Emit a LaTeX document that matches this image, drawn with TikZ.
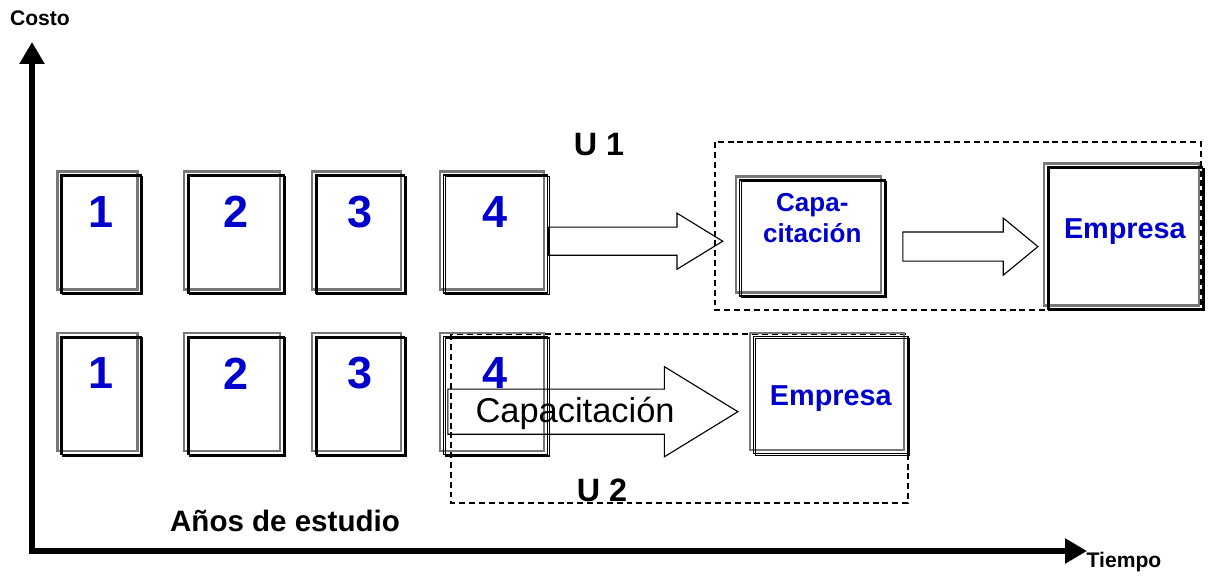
\documentclass[tikz,border=0pt]{standalone}
\usepackage{fontspec}
\setmainfont{Liberation Sans}
\usepackage{tikz}
\usetikzlibrary{arrows.meta,shapes.arrows,positioning,calc}
\definecolor{numblue}{RGB}{0,0,204}
\definecolor{shadowgray}{RGB}{120,120,120}

\begin{document}
\begin{tikzpicture}[x=0.025cm, y=-0.025cm,
  docbox/.style={draw, line width=0.9pt, minimum height=2.95cm, inner sep=0pt,
    preaction={draw=shadowgray, line width=1.5pt, transform canvas={shift={(-2.5pt,2.5pt)}}},
    postaction={draw=black, line width=0.9pt, transform canvas={shift={(1.2pt,-1.2pt)}}}},
  numlabel/.style={text=numblue, yshift=0.55cm, font=\fontsize{32}{36}\selectfont\bfseries},
  boxtext/.style={text=numblue, align=center, font=\fontsize{20.5}{24}\selectfont\bfseries},
  hollowarrow/.style={single arrow, draw, line width=0.8pt, anchor=tail,
    text height=0pt, text depth=0pt, inner xsep=0pt},
  axis/.style={line width=4.3pt, {Triangle[width=17pt,length=15.6pt]}-{Triangle[width=17pt,length=15.6pt]}},
  axislabel/.style={font=\fontsize{15}{18}\selectfont\bfseries},
  unitframe/.style={draw, line width=0.8pt, dash pattern=on 4.2pt off 2.8pt},
  unitlabel/.style={font=\fontsize{23}{27}\selectfont\bfseries}]
\useasboundingbox (0,0) rectangle (1211,575);

% axes
\coordinate (origin) at (32,551);
\coordinate (ytop) at (32,42);
\coordinate (xend) at (1087,551);
\draw[axis] (ytop) -- (origin) -- (xend);
\node[axislabel] (costo) at (40,18) {Costo};
\node[axislabel] (tiempo) at (1124,562) {Tiempo};

% frames of the two ways
\draw[unitframe] (715,142) rectangle (1201,310);
\draw[unitframe] (451,334) rectangle (908,503);
\node[unitlabel] (u1) at (599,145) {U 1};
\node[unitlabel] (u2) at (602,490) {U 2};

% years, first row
\node[docbox, minimum width=2cm, label={[numlabel]center:1}] (T1) at (101,234) {};
\node[docbox, minimum width=2.4cm, right=1.14cm of T1, label={[numlabel]center:2}] (T2) {};
\node[docbox, minimum width=2.225cm, right=0.75cm of T2, label={[numlabel]center:3}] (T3) {};
\node[docbox, minimum width=2.6cm, right=0.95cm of T3, label={[numlabel]center:4}] (T4) {};

% years, second row
\node[docbox, minimum width=2cm, below=1.05cm of T1, label={[numlabel]center:1}] (B1) {};
\node[docbox, minimum width=2.4cm, below=1.05cm of T2, label={[numlabel]center:2}] (B2) {};
\node[docbox, minimum width=2.225cm, below=1.05cm of T3, label={[numlabel]center:3}] (B3) {};
\node[docbox, minimum width=2.6cm, below=1.05cm of T4, label={[numlabel]center:4}] (B4) {};

% U 1
\node[hollowarrow, minimum height=4.35cm, inner ysep=0.3375cm,
  single arrow head extend=0.35cm, single arrow tip angle=63] (A1) at ([yshift=-0.18cm]T4.east) {};
\node[docbox, minimum width=3.625cm, minimum height=2.9cm, right=4.775cm of T4, yshift=-0.1cm,
  label={[boxtext, yshift=0.51cm, font=\fontsize{18.5}{22}\selectfont\bfseries]center:{Capa-\\citación}}] (cap) {};
\node[hollowarrow, minimum height=3.375cm, inner ysep=0.35cm,
  single arrow head extend=0.35cm, single arrow tip angle=79] (A2) at ([xshift=0.42cm, yshift=-0.215cm]cap.east) {};
\node[docbox, minimum width=3.875cm, minimum height=3.55cm, right=4.03cm of cap,
  label={[boxtext, yshift=0.16cm]center:Empresa}] (E1) {};

% U 2
\node[hollowarrow, minimum height=7.25cm, inner ysep=0.55cm,
  single arrow head extend=0.5625cm, single arrow tip angle=63] (A3) at ([shift={(0.11cm,-0.41cm)}]B4.west) {};
\node[font=\fontsize{24.5}{28}\selectfont] (captxt) at ($(A3.tail)!0.5!(A3.tip)+(-0.45cm,-0.05cm)$) {Capacitación};
\node[docbox, minimum width=3.85cm, minimum height=2.925cm, right=5.125cm of B4,
  label={[boxtext, yshift=-0.08cm]center:Empresa}] (E2) {};

\node[font=\fontsize{21}{25}\selectfont\bfseries] (anos) at (285,521) {Años de estudio};
\end{tikzpicture}
\end{document}
